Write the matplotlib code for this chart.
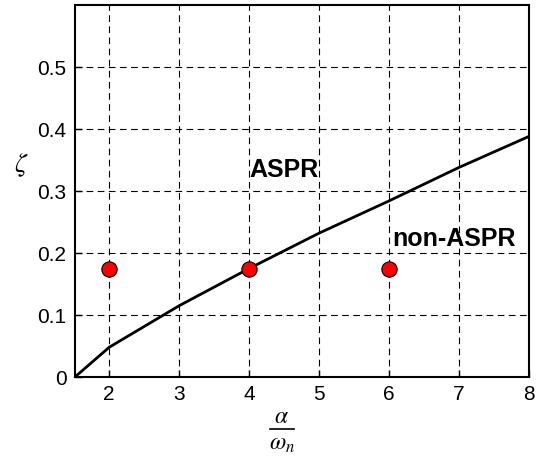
import matplotlib.pyplot as plt
from matplotlib.lines import Line2D

plt.rcParams['font.family'] = ['Liberation Sans', 'DejaVu Sans']
plt.rcParams['mathtext.fontset'] = 'stix'

# boundary curve zeta vs alpha/omega_n
ratio = [1.51, 2, 3, 4, 5, 6, 7, 8]
zeta = [0.0, 0.048, 0.115, 0.175, 0.232, 0.284, 0.338, 0.388]

# test points
pt_ratio = [2, 4, 6]
pt_zeta = [0.175, 0.175, 0.175]

xticks = [2, 3, 4, 5, 6, 7, 8]
yticks = [0, 0.1, 0.2, 0.3, 0.4, 0.5]
ytick_labels = ['0', '0.1', '0.2', '0.3', '0.4', '0.5']


def main():
    fig = plt.figure(figsize=(5.43, 4.59), dpi=100)
    ax = fig.add_axes([0.138, 0.1786, 0.836, 0.8105])

    ax.plot(ratio, zeta, color='black', linewidth=2)
    ax.plot(pt_ratio, pt_zeta, 'o', markersize=11, markerfacecolor='#ff0000',
            markeredgecolor='black', markeredgewidth=0.8, zorder=5)

    ax.text(4.5, 0.334, 'ASPR', fontsize=18, fontweight='bold', ha='center', va='center')
    ax.text(6.93, 0.222, 'non-ASPR', fontsize=18, fontweight='bold', ha='center', va='center')

    ax.set_xlim(1.51, 8)
    ax.set_ylim(0, 0.6)
    ax.set_xticks(xticks)
    ax.set_yticks(yticks)
    ax.set_yticklabels(ytick_labels)
    ax.tick_params(direction='in', labelsize=15, length=5, width=1, pad=6)
    ax.grid(True, color='black', linestyle=(0, (6, 4)), linewidth=0.8)
    for s in ax.spines.values():
        s.set_linewidth(1.5)

    # x label drawn as a stacked fraction alpha / omega_n
    fig.text(0.519, 0.091, r'$\alpha$', fontsize=17, ha='center', va='center')
    fig.add_artist(Line2D([0.497, 0.541], [0.065, 0.065], color='black', linewidth=1.2))
    fig.text(0.519, 0.032, r'$\omega_n$', fontsize=17, ha='center', va='center')
    fig.text(0.04, 0.64, r'$\zeta$', fontsize=19, ha='center', va='center')

    fig.savefig('out.png', dpi=100)


if __name__ == "__main__":
    main()
